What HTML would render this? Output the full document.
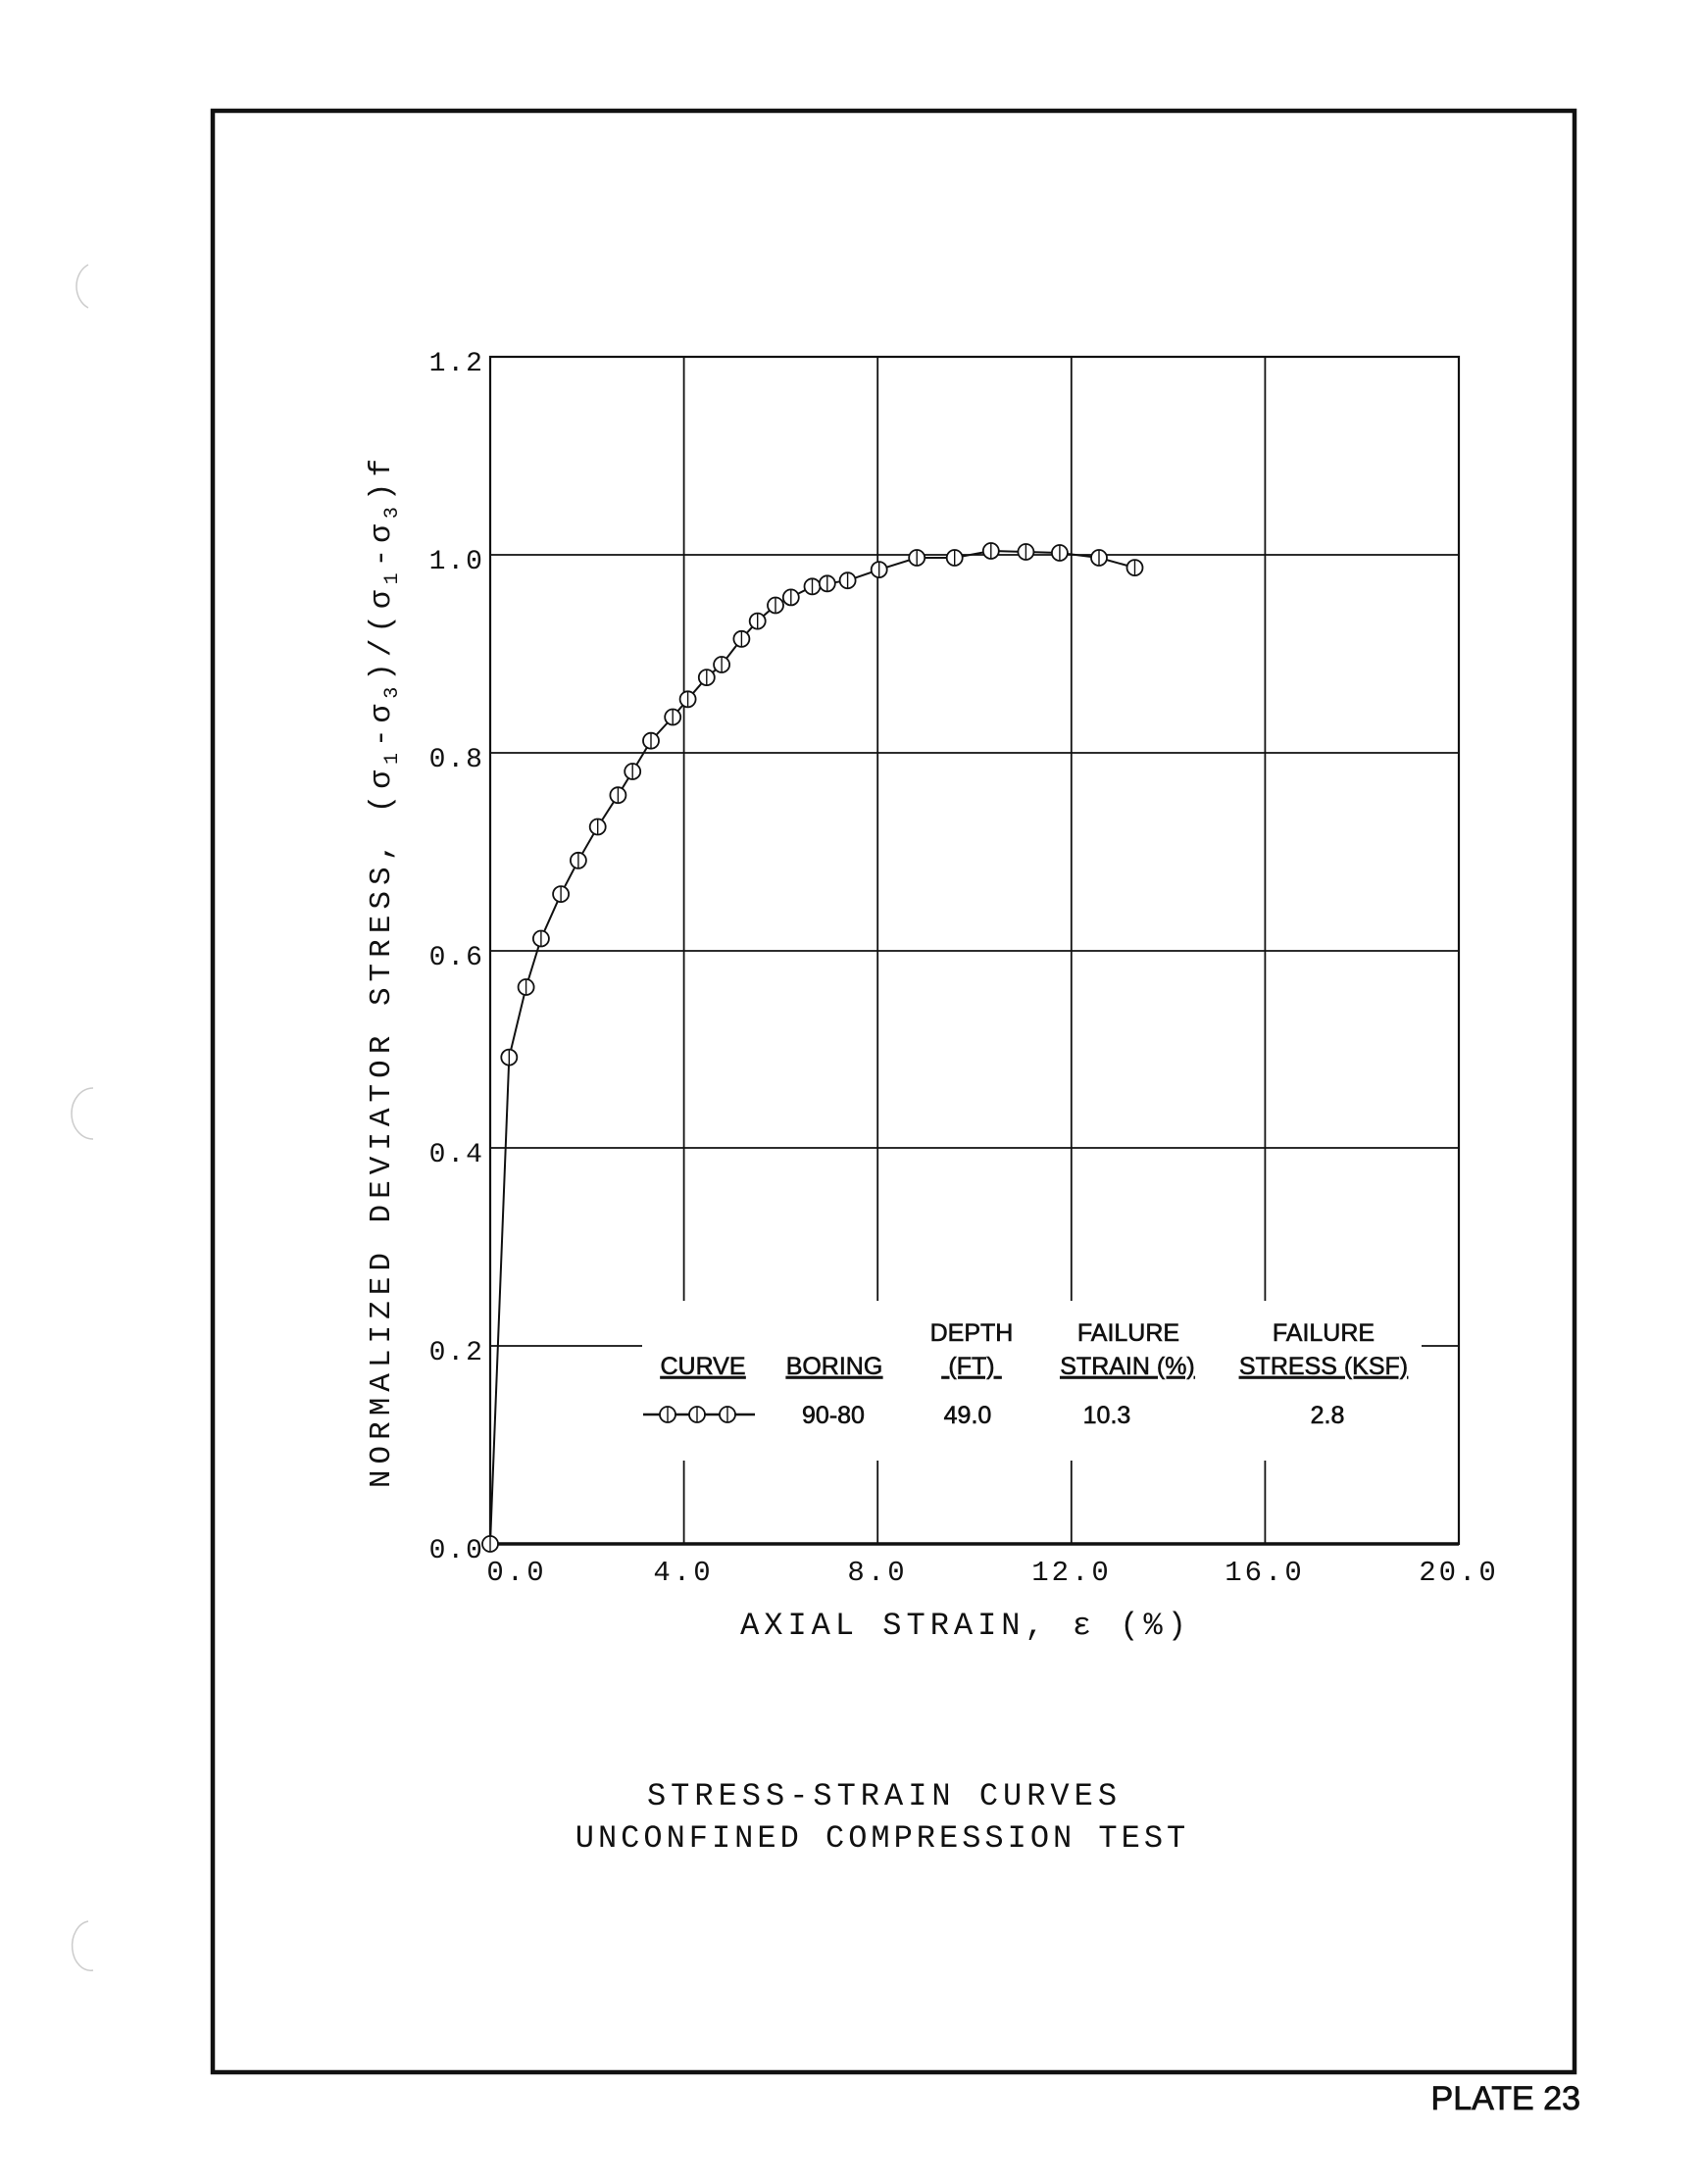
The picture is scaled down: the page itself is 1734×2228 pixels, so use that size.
<!DOCTYPE html>
<html><head><meta charset="utf-8"><style>
html,body{margin:0;padding:0;background:#fff}
svg{display:block}
text{fill:#111}
.m{font-family:"Liberation Mono","DejaVu Sans Mono",monospace}
.s{font-family:"Liberation Sans",Arial,sans-serif}
</style></head><body>
<svg width="1734" height="2228" viewBox="0 0 1734 2228" xmlns="http://www.w3.org/2000/svg">
<defs>
<g id="mk"><circle r="8" fill="#fff" stroke="#111" stroke-width="1.8"/><line x1="0" y1="-8" x2="0" y2="8" stroke="#111" stroke-width="1.4"/></g>
</defs>
<rect x="0" y="0" width="1734" height="2228" fill="#fff"/>
<rect x="217" y="113" width="1389" height="2001" fill="none" stroke="#111" stroke-width="4.5"/>
<text class="s" x="1612" y="2152" font-size="34" text-anchor="end" stroke="#111" stroke-width="0.8">PLATE 23</text>

<g stroke="#111" stroke-width="1.8" fill="none">
<line x1="697.6" y1="364" x2="697.6" y2="1327"/><line x1="697.6" y1="1490" x2="697.6" y2="1575"/>
<line x1="895.2" y1="364" x2="895.2" y2="1327"/><line x1="895.2" y1="1490" x2="895.2" y2="1575"/>
<line x1="1092.8" y1="364" x2="1092.8" y2="1327"/><line x1="1092.8" y1="1490" x2="1092.8" y2="1575"/>
<line x1="1290.4" y1="364" x2="1290.4" y2="1327"/><line x1="1290.4" y1="1490" x2="1290.4" y2="1575"/>
<line x1="500" y1="566" x2="1488" y2="566"/>
<line x1="500" y1="768" x2="1488" y2="768"/>
<line x1="500" y1="970" x2="1488" y2="970"/>
<line x1="500" y1="1171" x2="1488" y2="1171"/>
<line x1="500" y1="1373" x2="655" y2="1373"/><line x1="1450" y1="1373" x2="1488" y2="1373"/>
</g>
<rect x="500" y="364" width="988" height="1211" fill="none" stroke="#111" stroke-width="2.2"/>
<line x1="500" y1="1575" x2="1488" y2="1575" stroke="#111" stroke-width="3.5"/>

<g class="m" font-size="28" text-anchor="end" letter-spacing="2">
<text x="494" y="378">1.2</text>
<text x="494" y="580">1.0</text>
<text x="494" y="782">0.8</text>
<text x="494" y="984">0.6</text>
<text x="494" y="1185">0.4</text>
<text x="494" y="1387">0.2</text>
<text x="494" y="1589">0.0</text>
</g>
<g class="m" font-size="29" text-anchor="middle" letter-spacing="3">
<text x="527" y="1612">0.0</text>
<text x="697" y="1612">4.0</text>
<text x="895" y="1612">8.0</text>
<text x="1093" y="1612">12.0</text>
<text x="1290" y="1612">16.0</text>
<text x="1488" y="1612">20.0</text>
</g>
<text class="m" x="985" y="1667" font-size="32" text-anchor="middle" letter-spacing="5">AXIAL STRAIN, ε (%)</text>
<text class="m" transform="translate(397,990) rotate(-90)" font-size="31" text-anchor="middle" letter-spacing="6">NORMALIZED DEVIATOR STRESS, (σ<tspan font-size="20" dy="8">1</tspan><tspan dy="-8">-σ</tspan><tspan font-size="20" dy="8">3</tspan><tspan dy="-8">)/(σ</tspan><tspan font-size="20" dy="8">1</tspan><tspan dy="-8">-σ</tspan><tspan font-size="20" dy="8">3</tspan><tspan dy="-8">)f</tspan></text>

<text class="m" x="902" y="1841" font-size="32" text-anchor="middle" letter-spacing="5">STRESS-STRAIN CURVES</text>
<text class="m" x="900" y="1884" font-size="32" text-anchor="middle" letter-spacing="4">UNCONFINED COMPRESSION TEST</text>

<g class="s" font-size="25" text-anchor="middle" stroke="#111" stroke-width="0.6">
<text x="991" y="1368">DEPTH</text>
<text x="1151" y="1368">FAILURE</text>
<text x="1350" y="1368">FAILURE</text>
<text x="717" y="1402" text-decoration="underline">CURVE</text>
<text x="851" y="1402" text-decoration="underline">BORING</text>
<text x="991" y="1402" text-decoration="underline">&#160;(FT)&#160;</text>
<text x="1150" y="1402" text-decoration="underline">STRAIN (%)</text>
<text x="1350" y="1402" text-decoration="underline">STRESS (KSF)</text>
<text x="850" y="1452">90-80</text>
<text x="987" y="1452">49.0</text>
<text x="1129" y="1452">10.3</text>
<text x="1354" y="1452">2.8</text>
</g>
<line x1="656" y1="1443" x2="770" y2="1443" stroke="#111" stroke-width="2.4"/>
<use href="#mk" x="681" y="1443"/><use href="#mk" x="711" y="1443"/><use href="#mk" x="742" y="1443"/>

<polyline fill="none" stroke="#111" stroke-width="2" points="500,1575 519.3,1078.6 536.6,1007 551.9,957.5 572.1,912.1 589.9,877.8 609.7,843.5 630.4,811.2 645.2,787 664,755.7 686.2,731.5 701.6,713.3 720.8,691.1 736.1,678 756.4,651.8 772.7,633.6 791,617.5 806.8,609.4 828.5,598.3 843.8,595.3 864.6,592.2 896.7,581.1 935.2,569 973.7,569 1010.8,562 1046.4,563 1080.9,564 1121,569 1157.5,579.1"/>
<use href="#mk" x="500" y="1575"/>
<use href="#mk" x="519.3" y="1078.6"/><use href="#mk" x="536.6" y="1007"/><use href="#mk" x="551.9" y="957.5"/>
<use href="#mk" x="572.1" y="912.1"/><use href="#mk" x="589.9" y="877.8"/><use href="#mk" x="609.7" y="843.5"/>
<use href="#mk" x="630.4" y="811.2"/><use href="#mk" x="645.2" y="787"/><use href="#mk" x="664" y="755.7"/>
<use href="#mk" x="686.2" y="731.5"/><use href="#mk" x="701.6" y="713.3"/><use href="#mk" x="720.8" y="691.1"/>
<use href="#mk" x="736.1" y="678"/><use href="#mk" x="756.4" y="651.8"/><use href="#mk" x="772.7" y="633.6"/>
<use href="#mk" x="791" y="617.5"/><use href="#mk" x="806.8" y="609.4"/><use href="#mk" x="828.5" y="598.3"/>
<use href="#mk" x="843.8" y="595.3"/><use href="#mk" x="864.6" y="592.2"/><use href="#mk" x="896.7" y="581.1"/>
<use href="#mk" x="935.2" y="569"/><use href="#mk" x="973.7" y="569"/><use href="#mk" x="1010.8" y="562"/>
<use href="#mk" x="1046.4" y="563"/><use href="#mk" x="1080.9" y="564"/><use href="#mk" x="1121" y="569"/>
<use href="#mk" x="1157.5" y="579.1"/>

<g fill="none" stroke="#ccc" stroke-width="1.5">
<path d="M90,270 A20,24 0 0 0 90,314"/>
<path d="M95,1110 A22,26 0 0 0 95,1162"/>
<path d="M90,1960 A18,24 0 0 0 95,2010"/>
</g>
</svg>
</body></html>
